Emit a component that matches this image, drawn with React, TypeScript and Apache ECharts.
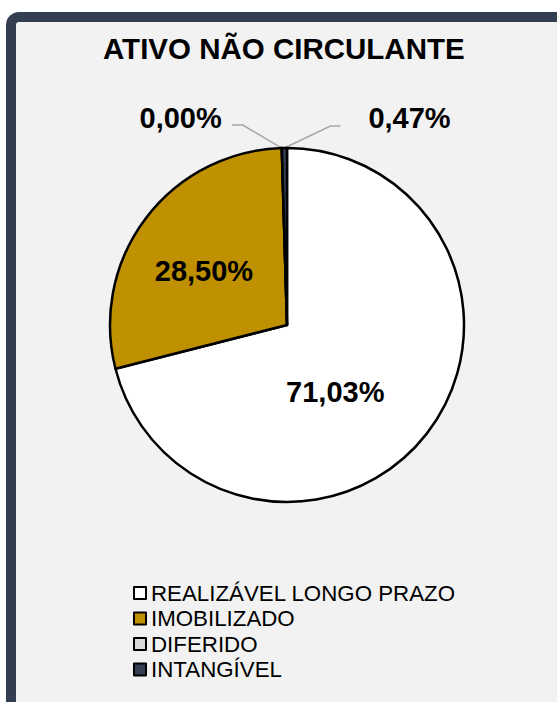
import React, { useEffect, useRef } from "react";
import * as echarts from "echarts";

const title = "ATIVO NÃO CIRCULANTE";
const categories = ["REALIZÁVEL LONGO PRAZO", "IMOBILIZADO", "DIFERIDO", "INTANGÍVEL"];
const values = [71.03, 28.5, 0.0, 0.47];
const colors = ["#ffffff", "#bf9000", "#d9d9d9", "#333f50"];

const FONT = "'Liberation Sans', Arial, sans-serif";

export default function App() {
  const ref = useRef<HTMLDivElement>(null);
  useEffect(() => {
    if (!ref.current) return;
    const chart = echarts.init(ref.current, undefined, { renderer: "svg" });
    const fmt = (v: number) => v.toFixed(2).replace(".", ",") + "%";
    const insideOffsets: Record<number, number[]> = { 0: [-24, 11], 1: [-10, 1] };
    const data = categories.map((name, i) => {
      const inside = i < 2;
      return {
        name,
        value: values[i],
        itemStyle: { color: colors[i] },
        label: inside
          ? { position: "inside", offset: insideOffsets[i] }
          : { position: "outside" },
        labelLine: { show: !inside },
      };
    });
    chart.setOption({
      animation: false,
      backgroundColor: "#ffffff",
      title: {
        text: title,
        left: 103,
        top: 33,
        padding: 0,
        textStyle: { fontFamily: FONT, fontSize: 29.5, fontWeight: "bold", color: "#000000" },
      },
      graphic: [
        {
          type: "rect",
          z: -10,
          silent: true,
          shape: { x: 11, y: 17, width: 620, height: 760, r: 8 },
          style: { fill: "#f2f2f2", stroke: "#333f50", lineWidth: 10 },
        },
      ],
      legend: {
        orient: "vertical",
        left: 133,
        top: 582,
        padding: 0,
        icon: "rect",
        itemWidth: 12,
        itemHeight: 12,
        itemGap: 3.5,
        selectedMode: false,
        textStyle: { fontFamily: FONT, fontSize: 22.3, color: "#000000", lineHeight: 22 },
        data: categories,
      },
      series: [
        {
          type: "pie",
          center: [287, 325],
          radius: [0, 177],
          startAngle: 90,
          clockwise: true,
          silent: true,
          minAngle: 0,
          avoidLabelOverlap: false,
          itemStyle: { borderColor: "#000000", borderWidth: 2.5 },
          emphasis: { disabled: true },
          label: {
            formatter: (p: any) => fmt(p.value),
            fontFamily: FONT,
            fontSize: 29,
            fontWeight: "bold",
            color: "#000000",
          },
          labelLine: {
            length: 20,
            length2: 10,
            lineStyle: { color: "#a6a6a6", width: 1.5 },
          },
          labelLayout: (params: any) => {
            const pts = params.labelLinePoints;
            if (!pts) return {};
            const p0 = pts[0];
            if (params.dataIndex === 2) {
              const elbow = [p0[0] - 39, p0[1] - 23];
              const end = [elbow[0] - 11, elbow[1]];
              return {
                x: end[0] - 10,
                y: end[1] - 7,
                align: "right",
                verticalAlign: "middle",
                labelLinePoints: [p0, elbow, end],
              };
            }
            if (params.dataIndex === 3) {
              const elbow = [p0[0] + 46, p0[1] - 22];
              const end = [elbow[0] + 10, elbow[1]];
              return {
                x: end[0] + 28,
                y: end[1] - 8,
                align: "left",
                verticalAlign: "middle",
                labelLinePoints: [p0, elbow, end],
              };
            }
            return {};
          },
          data,
        },
      ],
    });
    return () => chart.dispose();
  }, []);
  return (
    <div
      ref={ref}
      style={{ position: "fixed", left: 0, top: 0, width: 557, height: 702 }}
    />
  );
}
